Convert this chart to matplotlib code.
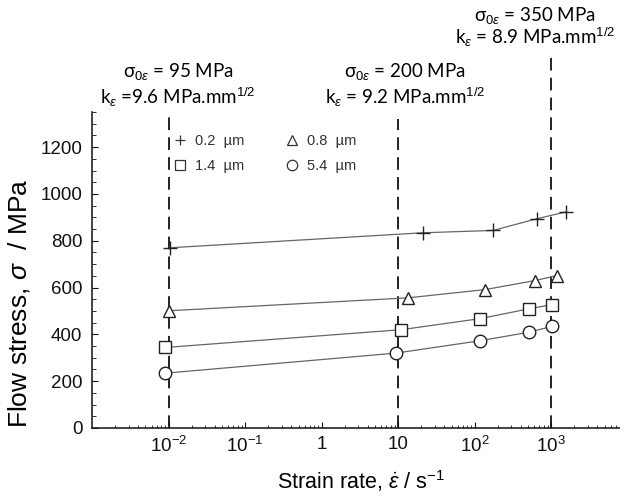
import matplotlib
matplotlib.use('Agg')
import matplotlib.pyplot as plt
from matplotlib.lines import Line2D
from matplotlib.ticker import MultipleLocator, LogLocator, NullFormatter

plt.rcParams['font.family'] = ['Liberation Sans', 'DejaVu Sans']
plt.rcParams['mathtext.fontset'] = 'custom'
plt.rcParams['mathtext.rm'] = 'Liberation Sans'
plt.rcParams['mathtext.it'] = 'Liberation Sans:italic'
plt.rcParams['mathtext.bf'] = 'Liberation Sans:bold'

# grain sizes and measured flow stress vs strain rate
rate_02 = [0.0105, 21, 175, 650, 1550]
stress_02 = [770, 834, 844, 894, 923]
rate_08 = [0.0102, 13.4, 135, 620, 1180]
stress_08 = [501, 556, 591, 630, 651]
rate_14 = [0.0091, 11, 117, 510, 1020]
stress_14 = [344, 420, 467, 509, 527]
rate_54 = [0.0089, 9.4, 119, 510, 1020]
stress_54 = [234, 320, 373, 409, 434]

labels = ['0.2  µm', '0.8  µm', '1.4  µm', '5.4  µm']
markers = ['+', '^', 's', 'o']

# Hall-Petch guide lines
guide_rates = [1e-2, 10, 1e3]
guide_tops = [1340, 1320, 1610]
sigma0 = ['95', '200', '350']
k_eps = ['=9.6', '= 9.2', '= 8.9']

xtick_vals = [1e-2, 1e-1, 1, 10, 1e2, 1e3]
xtick_labels = [r'$10^{-2}$', r'$10^{-1}$', '1', '10', r'$10^{2}$', r'$10^{3}$']

fig = plt.figure(figsize=(6.2, 5.04), dpi=100)
ax = fig.add_axes([92 / 620, 76 / 504, 528 / 620, 316 / 504])

series = [(rate_02, stress_02), (rate_08, stress_08),
          (rate_14, stress_14), (rate_54, stress_54)]
for (x, y), m in zip(series, markers):
    ax.plot(x, y, color='#666666', lw=0.9, zorder=2)
    ax.plot(x, y, ls='none', marker=m, ms=9 if m != '+' else 10,
            mfc='white', mec='#222222', mew=1.0, zorder=3)

for xr, top in zip(guide_rates, guide_tops):
    ax.plot([xr, xr], [0, top], color='#111111', lw=1.3,
            dashes=(7, 4), clip_on=False, zorder=1)

ax.set_xscale('log')
ax.set_xlim(10 ** -3, 10 ** 3.9)
ax.set_ylim(0, 1350)
ax.set_xticks(xtick_vals)
ax.set_xticklabels(xtick_labels)
ax.xaxis.set_minor_locator(LogLocator(base=10, subs=range(2, 10), numticks=20))
ax.xaxis.set_minor_formatter(NullFormatter())
ax.set_yticks(range(0, 1201, 200))
ax.yaxis.set_minor_locator(MultipleLocator(50))
ax.tick_params(which='both', direction='in', labelsize=13.5, colors='#111111')
ax.tick_params(axis='y', which='major', length=4, pad=7)
ax.tick_params(axis='y', which='minor', length=3)
ax.tick_params(axis='x', which='major', length=4, pad=6)
ax.tick_params(axis='x', which='minor', length=2.5)
for s in ['top', 'right']:
    ax.spines[s].set_visible(False)
for s in ['left', 'bottom']:
    ax.spines[s].set_color('#222222')
    ax.spines[s].set_linewidth(1.2)

ax.set_xlabel(r'Strain rate, $\dot{\varepsilon}$ / s$^{-1}$', fontsize=15.5)
ax.xaxis.set_label_coords(0.51, -0.128)
ax.set_ylabel(r'Flow stress, $\sigma$  / MPa', fontsize=19)
ax.yaxis.set_label_coords(-0.113, 0.395)

handles = [Line2D([], [], ls='none', marker=m, ms=7.5, mfc='white',
                  mec='#333333', mew=0.9) for m in markers]
order = [0, 2, 1, 3]
leg = ax.legend([handles[i] for i in order], [labels[i] for i in order],
                ncol=2, frameon=False, loc='upper left',
                bbox_to_anchor=(173 / 620, 1 - 134 / 504),
                bbox_transform=fig.transFigure, borderpad=0, borderaxespad=0,
                fontsize=10.5, handlelength=1.0, handletextpad=0.5,
                columnspacing=2.8, labelspacing=0.75, labelcolor='#333333')

ann_x = [178, 405, 535]
ann_y1 = [72, 72, 15]
ann_y2 = [97, 97, 37]
for cx, y1, y2, s0, k in zip(ann_x, ann_y1, ann_y2, sigma0, k_eps):
    fig.text(cx / 620, 1 - y1 / 504, 'σ$_{0ε}$ = ' + s0 + ' MPa',
             family=['Lato', 'DejaVu Sans'], fontsize=13.5,
             ha='center', va='center')
    fig.text(cx / 620, 1 - y2 / 504, 'k$_{ε}$ ' + k + ' MPa.mm$^{1/2}$',
             family=['Lato', 'DejaVu Sans'], fontsize=13.5,
             ha='center', va='center')

fig.savefig('out.png', dpi=100)
